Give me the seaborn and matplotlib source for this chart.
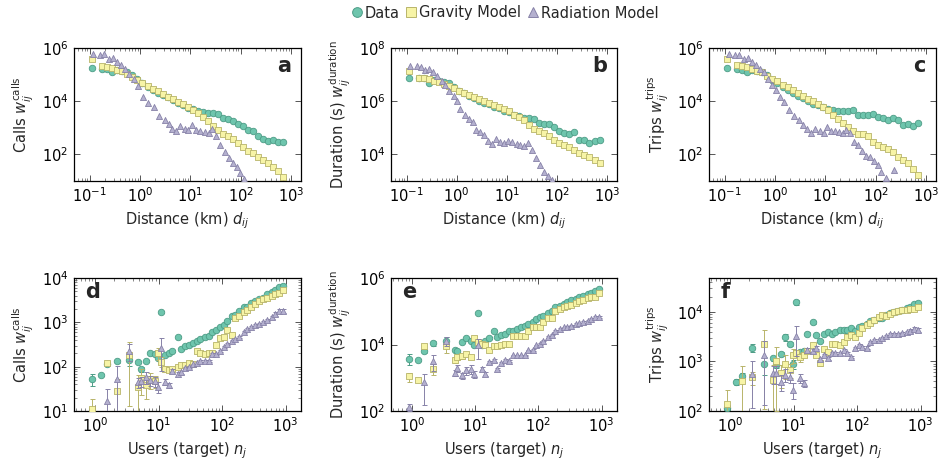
import numpy as np
import pandas as pd
import matplotlib
matplotlib.use("Agg")
import matplotlib.pyplot as plt
from matplotlib.lines import Line2D
from matplotlib.ticker import NullLocator, LogLocator
import seaborn as sns

# ---------------- data (log10 values) ----------------
DIST_LOG = [-0.95, -0.75, -0.65, -0.55, -0.45, -0.35, -0.25, -0.15, -0.05, 0.05,
            0.15, 0.25, 0.35, 0.45, 0.55, 0.65, 0.75, 0.85, 0.95, 1.05,
            1.15, 1.25, 1.35, 1.45, 1.55, 1.65, 1.75, 1.85, 1.95, 2.05,
            2.15, 2.25, 2.35, 2.45, 2.55, 2.65, 2.75, 2.85]

A_DATA = [5.24, 5.20, 5.20, 5.08, 5.17, 5.12, 5.08, 4.99, 4.83, 4.67,
          4.55, 4.42, 4.32, 4.25, 4.15, 4.05, 3.95, 3.85, 3.75, 3.70,
          3.65, 3.58, 3.55, 3.55, 3.53, 3.38, 3.33, 3.25, 3.16, 3.08,
          2.93, 2.88, 2.70, 2.58, 2.49, 2.55, 2.46, 2.48]
A_GRAV = [5.58, 5.33, 5.30, 5.24, 5.17, 5.12, 5.04, 4.92, 4.80, 4.67,
          4.57, 4.47, 4.37, 4.27, 4.17, 4.07, 3.98, 3.88, 3.78, 3.68,
          3.55, 3.40, 3.25, 3.08, 2.91, 2.78, 2.68, 2.57, 2.43, 2.26,
          2.14, 2.04, 1.91, 1.79, 1.66, 1.52, 1.39, 1.16]
A_RAD_X = [-0.940, -0.788, -0.722, -0.623, -0.543, -0.457, -0.371, -0.291, -0.212, -0.126,
           -0.046, 0.053, 0.159, 0.272, 0.384, 0.490, 0.570, 0.636, 0.715, 0.801,
           0.887, 0.954, 1.033, 1.113, 1.199, 1.285, 1.364, 1.430, 1.510, 1.596,
           1.682, 1.762, 1.848, 1.927, 1.993, 2.060]
A_RAD = [5.79, 5.74, 5.76, 5.58, 5.64, 5.49, 5.37, 5.20, 5.04, 4.83,
         4.58, 4.17, 3.93, 3.78, 3.43, 3.30, 3.16, 2.97, 2.88, 3.06,
         2.97, 2.91, 3.09, 2.93, 2.88, 2.83, 2.81, 2.97, 2.68, 2.35,
         2.10, 1.85, 1.69, 1.52, 1.29, 1.07]

B_DATA = [6.87, 6.89, 6.87, 6.67, 6.80, 6.75, 6.71, 6.67, 6.55, 6.40,
          6.30, 6.21, 6.12, 6.02, 5.95, 5.88, 5.80, 5.73, 5.65, 5.58,
          5.50, 5.43, 5.38, 5.38, 5.33, 5.18, 5.16, 5.13, 5.03, 4.88,
          4.81, 4.78, 4.84, 4.53, 4.56, 4.43, 4.51, 4.53]
B_GRAV = [7.14, 6.89, 6.87, 6.83, 6.77, 6.71, 6.65, 6.58, 6.50, 6.40,
          6.32, 6.25, 6.17, 6.10, 6.00, 5.93, 5.84, 5.78, 5.70, 5.63,
          5.50, 5.40, 5.28, 5.09, 4.97, 4.88, 4.81, 4.71, 4.53, 4.43,
          4.36, 4.26, 4.16, 4.06, 3.99, 3.89, 3.79, 3.69]
B_RAD_X = [-0.940, -0.788, -0.722, -0.636, -0.556, -0.470, -0.391, -0.291, -0.225, -0.146,
           -0.060, 0.007, 0.073, 0.159, 0.238, 0.318, 0.384, 0.470, 0.550, 0.623,
           0.702, 0.781, 0.868, 0.954, 1.033, 1.113, 1.199, 1.272, 1.351, 1.417,
           1.497, 1.576, 1.662, 1.748, 1.815, 1.894]
B_RAD = [7.33, 7.33, 7.30, 7.17, 7.20, 7.08, 6.93, 6.77, 6.62, 6.40,
         6.21, 6.00, 5.71, 5.47, 5.34, 5.22, 4.93, 4.84, 4.72, 4.51,
         4.39, 4.57, 4.45, 4.41, 4.51, 4.45, 4.39, 4.35, 4.32, 4.41,
         4.16, 3.85, 3.60, 3.35, 3.19, 3.02]

C_DATA = [5.24, 5.20, 5.17, 5.08, 5.17, 5.12, 5.08, 4.99, 4.80, 4.67,
          4.55, 4.42, 4.30, 4.21, 4.12, 4.00, 3.90, 3.84, 3.78, 3.71,
          3.68, 3.65, 3.63, 3.65, 3.68, 3.50, 3.47, 3.50, 3.53, 3.40,
          3.38, 3.30, 3.38, 3.28, 3.09, 3.16, 3.06, 3.18]
C_GRAV = [5.58, 5.37, 5.33, 5.29, 5.20, 5.14, 5.08, 4.96, 4.83, 4.75,
          4.62, 4.52, 4.42, 4.30, 4.21, 4.09, 4.00, 3.88, 3.78, 3.68,
          3.50, 3.34, 3.18, 3.03, 2.88, 2.78, 2.76, 2.68, 2.47, 2.35,
          2.26, 2.19, 2.10, 1.89, 1.79, 1.66, 1.45, 1.23]
C_RAD_X = [-0.921, -0.788, -0.722, -0.623, -0.543, -0.457, -0.371, -0.305, -0.225, -0.146,
           -0.060, 0.026, 0.106, 0.172, 0.272, 0.384, 0.470, 0.556, 0.636, 0.715,
           0.801, 0.887, 0.967, 1.033, 1.113, 1.199, 1.272, 1.351, 1.417, 1.497,
           1.563, 1.642, 1.728, 1.815, 1.894, 1.974, 2.040, 2.106, 2.212, 2.358]
C_RAD = [5.79, 5.74, 5.74, 5.58, 5.64, 5.49, 5.37, 5.20, 5.08, 4.83,
         4.62, 4.42, 4.15, 3.96, 3.68, 3.43, 3.30, 3.09, 2.97, 2.81,
         2.97, 2.88, 2.81, 3.03, 2.88, 2.88, 2.84, 2.81, 2.91, 2.81,
         2.47, 2.35, 2.14, 1.94, 1.91, 1.76, 1.60, 1.35, 1.11, 1.42]

nan = float("nan")
USERS_LOG = [-0.04, 0.10, 0.19, 0.34, 0.54, 0.68, 0.72, 0.80, 0.86, 0.94,
             0.99, 1.04, 1.11, 1.16, 1.22, 1.30, 1.35, 1.41, 1.48, 1.54,
             1.60, 1.66, 1.73, 1.79, 1.84, 1.91, 1.97, 2.03, 2.08, 2.15,
             2.21, 2.27, 2.34, 2.40, 2.46, 2.52, 2.59, 2.65, 2.71, 2.78,
             2.84, 2.89, 2.96]

D_DATA = [1.73, 1.82, 2.06, 2.12, 2.15, 2.10, 1.94, 2.12, 2.31, 2.29,
          2.19, 3.23, 2.27, 2.30, 2.36, 2.66, 2.40, 2.46, 2.48, 2.54,
          2.59, 2.62, 2.66, 2.70, 2.78, 2.83, 2.89, 2.95, 3.04, 3.14,
          3.17, 3.25, 3.34, 3.35, 3.43, 3.49, 3.53, 3.56, 3.64, 3.68,
          3.73, 3.79, 3.83]
D_DATA_ERR = [0.30, 0.05, 0.12, 0.10, 0.25, 0.05, 0.15, 0.05, 0.05, 0.05,
              0.06, 0.05, 0.05, 0.05, 0.05, 0.05, 0.04, 0.04, 0.04, 0.04,
              0.04, 0.04, 0.04, 0.04, 0.04, 0.04, 0.04, 0.04, 0.04, 0.04,
              0.04, 0.04, 0.04, 0.04, 0.04, 0.04, 0.04, 0.04, 0.05, 0.05,
              0.05, 0.06, 0.06]
D_GRAV = [1.05, nan, 2.08, 1.44, 2.27, 1.54, 1.75, 1.58, 1.72, 1.67,
          2.30, 2.11, 1.95, 1.93, 1.94, 2.00, 2.04, 2.04, 2.08, 2.06,
          2.36, 2.30, 2.29, 2.30, 2.31, 2.50, 2.64, 2.68, 2.83, 2.72,
          3.09, 3.15, 3.24, 3.28, 3.35, 3.42, 3.47, 3.52, 3.56, 3.60,
          3.63, 3.67, 3.72]
D_GRAV_ERR = [0.66, 0.10, 0.10, 0.95, 0.93, 0.90, 0.60, 0.50, 0.40, 0.30,
              0.30, 0.25, 0.15, 0.12, 0.10, 0.10, 0.08, 0.08, 0.08, 0.08,
              0.06, 0.06, 0.06, 0.06, 0.06, 0.05, 0.05, 0.05, 0.05, 0.05,
              0.05, 0.05, 0.05, 0.05, 0.05, 0.05, 0.05, 0.05, 0.05, 0.05,
              0.05, 0.05, 0.06]
D_RAD = [nan, nan, 1.22, 1.73, 2.36, 1.65, 1.67, 1.76, 1.69, 1.67,
         1.55, 2.42, 1.65, 1.58, 1.90, 1.84, 1.88, 1.97, 1.99, 2.05,
         2.08, 2.12, 2.12, 2.12, 2.29, 2.29, 2.35, 2.45, 2.51, 2.59,
         2.63, 2.66, 2.78, 2.85, 2.89, 2.93, 2.96, 3.00, 3.05, 3.11,
         3.19, 3.26, 3.26]
D_RAD_ERR = [0.50, 0.50, 0.90, 0.97, 0.40, 0.25, 0.25, 0.30, 0.25, 0.25,
             0.30, 0.70, 0.15, 0.15, 0.10, 0.08, 0.08, 0.06, 0.06, 0.05,
             0.05, 0.05, 0.05, 0.05, 0.05, 0.05, 0.05, 0.05, 0.05, 0.05,
             0.05, 0.05, 0.05, 0.05, 0.05, 0.05, 0.06, 0.06, 0.06, 0.08,
             0.10, 0.12, 0.12]

E_DATA = [3.57, 3.54, 3.80, 4.04, 4.12, 3.84, 3.79, 4.07, 4.20, 4.12,
          4.00, 4.94, 4.00, 4.12, 4.20, 4.42, 4.22, 4.30, 4.32, 4.40,
          4.42, 4.47, 4.52, 4.57, 4.62, 4.67, 4.77, 4.82, 4.87, 4.94,
          5.02, 5.12, 5.17, 5.22, 5.27, 5.34, 5.37, 5.42, 5.47, 5.52,
          5.54, 5.60, 5.67]
E_DATA_ERR = [0.35, 0.05, 0.10, 0.15, 0.25, 0.05, 0.08, 0.05, 0.05, 0.05,
              0.05, 0.05, 0.05, 0.05, 0.05, 0.05, 0.04, 0.04, 0.04, 0.04,
              0.04, 0.04, 0.04, 0.04, 0.04, 0.04, 0.04, 0.04, 0.04, 0.04,
              0.04, 0.04, 0.04, 0.04, 0.04, 0.04, 0.04, 0.04, 0.04, 0.04,
              0.04, 0.05, 0.05]
E_GRAV = [3.04, 2.94, 3.94, 3.27, 3.94, 3.54, 3.62, 3.64, 3.70, 3.62,
          4.20, 4.07, 4.02, 3.97, 3.84, 3.94, 3.94, 3.97, 4.02, 4.02,
          4.27, 4.26, 4.27, 4.27, 4.40, 4.52, 4.54, 4.54, 4.67, 4.80,
          4.80, 5.02, 5.07, 5.12, 5.17, 5.20, 5.24, 5.30, 5.34, 5.40,
          5.42, 5.44, 5.54]
E_GRAV_ERR = [0.30, 0.05, 0.15, 0.35, 0.35, 0.20, 0.20, 0.15, 0.12, 0.15,
              0.10, 0.10, 0.08, 0.08, 0.06, 0.06, 0.05, 0.05, 0.05, 0.05,
              0.04, 0.04, 0.04, 0.04, 0.04, 0.04, 0.04, 0.04, 0.04, 0.04,
              0.04, 0.04, 0.04, 0.04, 0.04, 0.04, 0.04, 0.04, 0.04, 0.04,
              0.04, 0.04, 0.04]
E_RAD = [2.12, nan, 2.87, 3.50, 4.12, 3.14, 3.30, 3.07, 3.22, 3.27,
         3.12, 3.97, 3.27, 3.12, 3.47, 3.52, 3.27, 3.44, 3.54, 3.50,
         3.67, 3.67, 3.67, 3.67, 3.82, 3.84, 3.97, 4.02, 4.12, 4.22,
         4.30, 4.40, 4.47, 4.52, 4.54, 4.57, 4.62, 4.64, 4.67, 4.72,
         4.77, 4.82, 4.82]
E_RAD_ERR = [0.25, 0.30, 0.80, 0.50, 0.30, 0.20, 0.25, 0.20, 0.25, 0.30,
             0.25, 0.60, 0.15, 0.12, 0.10, 0.10, 0.08, 0.06, 0.06, 0.05,
             0.05, 0.05, 0.05, 0.05, 0.05, 0.05, 0.05, 0.05, 0.05, 0.05,
             0.05, 0.05, 0.05, 0.05, 0.05, 0.05, 0.05, 0.05, 0.06, 0.06,
             0.08, 0.08, 0.08]

F_DATA = [2.06, 2.59, 2.71, 3.28, 2.95, 3.06, 2.93, 3.15, 3.49, 3.35,
          2.95, 4.19, 3.19, 3.21, 3.56, 3.79, 3.53, 3.41, 3.56, 3.59,
          3.55, 3.59, 3.64, 3.64, 3.63, 3.68, 3.61, 3.69, 3.71, 3.75,
          3.81, 3.83, 3.88, 3.88, 3.93, 3.97, 3.99, 4.01, 4.04, 4.08,
          4.09, 4.16, 4.17]
F_DATA_ERR = [0.10, 0.15, 0.15, 0.20, 0.40, 0.10, 0.15, 0.10, 0.15, 0.10,
              0.20, 0.12, 0.10, 0.10, 0.08, 0.08, 0.05, 0.05, 0.05, 0.05,
              0.04, 0.04, 0.04, 0.04, 0.04, 0.04, 0.04, 0.04, 0.04, 0.04,
              0.04, 0.04, 0.04, 0.04, 0.04, 0.04, 0.04, 0.04, 0.04, 0.05,
              0.05, 0.06, 0.06]
F_GRAV = [2.14, nan, 2.61, 2.68, 3.35, 2.63, 3.01, 2.76, 2.95, 2.83,
          3.13, 3.16, 3.09, 3.13, 3.21, 3.33, 3.13, 2.97, 3.24, 3.19,
          3.36, 3.35, 3.33, 3.39, 3.49, 3.53, 3.49, 3.57, 3.68, 3.73,
          3.77, 3.83, 3.89, 3.93, 3.91, 3.96, 3.99, 4.01, 4.03, 4.04,
          4.06, 4.06, 4.09]
F_GRAV_ERR = [0.90, 0.10, 0.97, 0.30, 0.95, 0.97, 0.90, 0.50, 0.50, 0.30,
              0.30, 0.15, 0.20, 0.10, 0.10, 0.10, 0.10, 0.15, 0.08, 0.06,
              0.05, 0.05, 0.05, 0.05, 0.05, 0.05, 0.05, 0.05, 0.05, 0.05,
              0.05, 0.05, 0.05, 0.05, 0.05, 0.05, 0.05, 0.05, 0.05, 0.05,
              0.05, 0.05, 0.05]
F_RAD = [nan, nan, nan, 2.75, 3.13, 2.77, 2.76, 2.59, 2.73, 2.68,
         2.43, 3.51, 2.66, 2.56, 3.23, 3.21, 3.28, 3.04, 3.13, 3.06,
         3.17, 3.17, 3.16, 3.23, 3.17, 3.09, 3.26, 3.33, 3.29, 3.28,
         3.39, 3.43, 3.44, 3.48, 3.51, 3.55, 3.56, 3.56, 3.57, 3.59,
         3.61, 3.66, 3.63]
F_RAD_ERR = [0.50, 0.50, 0.50, 0.80, 0.90, 0.40, 0.40, 0.35, 0.30, 0.25,
             0.35, 0.60, 0.20, 0.15, 0.10, 0.10, 0.08, 0.08, 0.06, 0.06,
             0.05, 0.05, 0.05, 0.05, 0.05, 0.05, 0.05, 0.05, 0.05, 0.05,
             0.05, 0.05, 0.05, 0.05, 0.05, 0.05, 0.05, 0.05, 0.06, 0.06,
             0.08, 0.08, 0.10]

SERIES_NAMES = ["Data", "Gravity Model", "Radiation Model"]
TOP_YLABELS = [r"Calls $w_{ij}^{\mathrm{calls}}$", r"Duration (s) $w_{ij}^{\mathrm{duration}}$",
               r"Trips $w_{ij}^{\mathrm{trips}}$"]
BOT_YLABELS = TOP_YLABELS
TOP_XLABEL = r"Distance (km) $d_{ij}$"
BOT_XLABEL = r"Users (target) $n_j$"
PANEL_LETTERS = ["a", "b", "c", "d", "e", "f"]

# ---------------- style ----------------
sns.set_theme(style="ticks")
plt.rcParams["font.family"] = ["DejaVu Sans"]
plt.rcParams["mathtext.fontset"] = "dejavusans"
plt.rcParams["axes.edgecolor"] = "black"
plt.rcParams["axes.linewidth"] = 0.9

FACE = {"Data": "#6ec5ad", "Gravity Model": "#f7f4a6", "Radiation Model": "#b4b0cf"}
EDGE = {"Data": "#4d9c86", "Gravity Model": "#b8b46a", "Radiation Model": "#8782a8"}
MARK = {"Data": "o", "Gravity Model": "s", "Radiation Model": "^"}
SIZE = {"Data": 22, "Gravity Model": 22, "Radiation Model": 19}

fig = plt.figure(figsize=(9.4, 4.66), dpi=100)
W, H = 940.0, 466.0
top_b, bot_b, ah = 1 - 181 / H, 1 - 411 / H, 133 / H
lefts = [(74, 227), (391, 226), (709, 227)]
axes_top = [fig.add_axes([l / W, top_b, w / W, ah]) for l, w in lefts]
axes_bot = [fig.add_axes([l / W, bot_b, w / W, ah]) for l, w in lefts]


def scatter(ax, xlog, ylog, name, z):
    df = pd.DataFrame({"x": np.power(10.0, xlog), "y": np.power(10.0, ylog)}).dropna()
    sns.scatterplot(data=df, x="x", y="y", ax=ax, marker=MARK[name], s=SIZE[name],
                    color=FACE[name], edgecolor=EDGE[name], linewidth=0.6,
                    zorder=z, legend=False, clip_on=True)


def errbars(ax, xlog, ylog, rel, name, z):
    x = np.power(10.0, np.array(xlog))
    y = np.power(10.0, np.array(ylog))
    r = np.array(rel)
    ok = ~np.isnan(y)
    ax.errorbar(x[ok], y[ok], yerr=y[ok] * r[ok], fmt="none", ecolor=EDGE[name],
                elinewidth=0.7, capsize=1.8, capthick=0.7, zorder=z)


top_sets = [
    (A_DATA, A_GRAV, A_RAD_X, A_RAD, (1e1, 1e6), [1e2, 1e4, 1e6]),
    (B_DATA, B_GRAV, B_RAD_X, B_RAD, (1e3, 1e8), [1e4, 1e6, 1e8]),
    (C_DATA, C_GRAV, C_RAD_X, C_RAD, (1e1, 1e6), [1e2, 1e4, 1e6]),
]
for i, (ax, (dd, gg, rx, rr, ylim, yt)) in enumerate(zip(axes_top, top_sets)):
    scatter(ax, DIST_LOG, dd, "Data", 3)
    scatter(ax, DIST_LOG, gg, "Gravity Model", 4)
    scatter(ax, rx, rr, "Radiation Model", 5)
    ax.set_xscale("log")
    ax.set_yscale("log")
    ax.set_xlim(0.0489, 1581)
    ax.set_ylim(*ylim)
    ax.set_xticks([1e-1, 1e0, 1e1, 1e2, 1e3])
    ax.xaxis.set_minor_locator(LogLocator(base=10, subs=np.arange(2, 10), numticks=20))
    ax.set_yticks(yt)
    ax.yaxis.set_minor_locator(NullLocator())
    ax.set_xlabel(TOP_XLABEL, fontsize=10.5)
    ax.set_ylabel(TOP_YLABELS[i], fontsize=10.5)
    ax.text(0.955, 0.865, PANEL_LETTERS[i], transform=ax.transAxes, ha="right",
            va="center", fontsize=15, fontweight="bold")

bot_sets = [
    (D_DATA, D_DATA_ERR, D_GRAV, D_GRAV_ERR, D_RAD, D_RAD_ERR, (1e1, 1e4), [1e1, 1e2, 1e3, 1e4], True),
    (E_DATA, E_DATA_ERR, E_GRAV, E_GRAV_ERR, E_RAD, E_RAD_ERR, (1e2, 1e6), [1e2, 1e4, 1e6], False),
    (F_DATA, F_DATA_ERR, F_GRAV, F_GRAV_ERR, F_RAD, F_RAD_ERR, (1e2, 4.8e4), [1e2, 1e3, 1e4], True),
]
for i, (ax, (dd, de, gg, ge, rr, re, ylim, yt, yminor)) in enumerate(zip(axes_bot, bot_sets)):
    errbars(ax, USERS_LOG, dd, de, "Data", 2.5)
    scatter(ax, USERS_LOG, dd, "Data", 3)
    errbars(ax, USERS_LOG, gg, ge, "Gravity Model", 3.5)
    scatter(ax, USERS_LOG, gg, "Gravity Model", 4)
    errbars(ax, USERS_LOG, rr, re, "Radiation Model", 4.5)
    scatter(ax, USERS_LOG, rr, "Radiation Model", 5)
    ax.set_xscale("log")
    ax.set_yscale("log")
    ax.set_xlim(0.467, 1754)
    ax.set_ylim(*ylim)
    ax.set_xticks([1e0, 1e1, 1e2, 1e3])
    ax.xaxis.set_minor_locator(LogLocator(base=10, subs=np.arange(2, 10), numticks=20))
    ax.set_yticks(yt)
    if yminor:
        ax.yaxis.set_minor_locator(LogLocator(base=10, subs=np.arange(2, 10), numticks=20))
    else:
        ax.yaxis.set_minor_locator(NullLocator())
    ax.set_xlabel(BOT_XLABEL, fontsize=10.5)
    ax.set_ylabel(BOT_YLABELS[i], fontsize=10.5)
    ax.text(0.05, 0.895, PANEL_LETTERS[3 + i], transform=ax.transAxes, ha="left",
            va="center", fontsize=15, fontweight="bold")

for ax in axes_top + axes_bot:
    ax.set_ylim(ax.get_ylim())
    ax.tick_params(which="both", direction="in", top=True, right=True,
                   color="#555555", labelsize=10.5, labelcolor="black")
    ax.tick_params(which="major", length=4, width=0.7, pad=4)
    ax.tick_params(which="minor", length=2.2, width=0.5)
    for sp in ax.spines.values():
        sp.set_color("black")
        sp.set_linewidth(0.9)

handles = [Line2D([], [], linestyle="none", marker=MARK[n], markersize=7,
                  markerfacecolor=FACE[n], markeredgecolor=EDGE[n], markeredgewidth=0.7)
           for n in SERIES_NAMES]
fig.legend(handles, SERIES_NAMES, loc="center", bbox_to_anchor=(504 / W, 1 - 13 / H),
           ncol=3, frameon=False, handletextpad=0.05, columnspacing=0.3,
           handlelength=1.0, fontsize=10.5, borderaxespad=0)

fig.savefig("out.png", dpi=100)
